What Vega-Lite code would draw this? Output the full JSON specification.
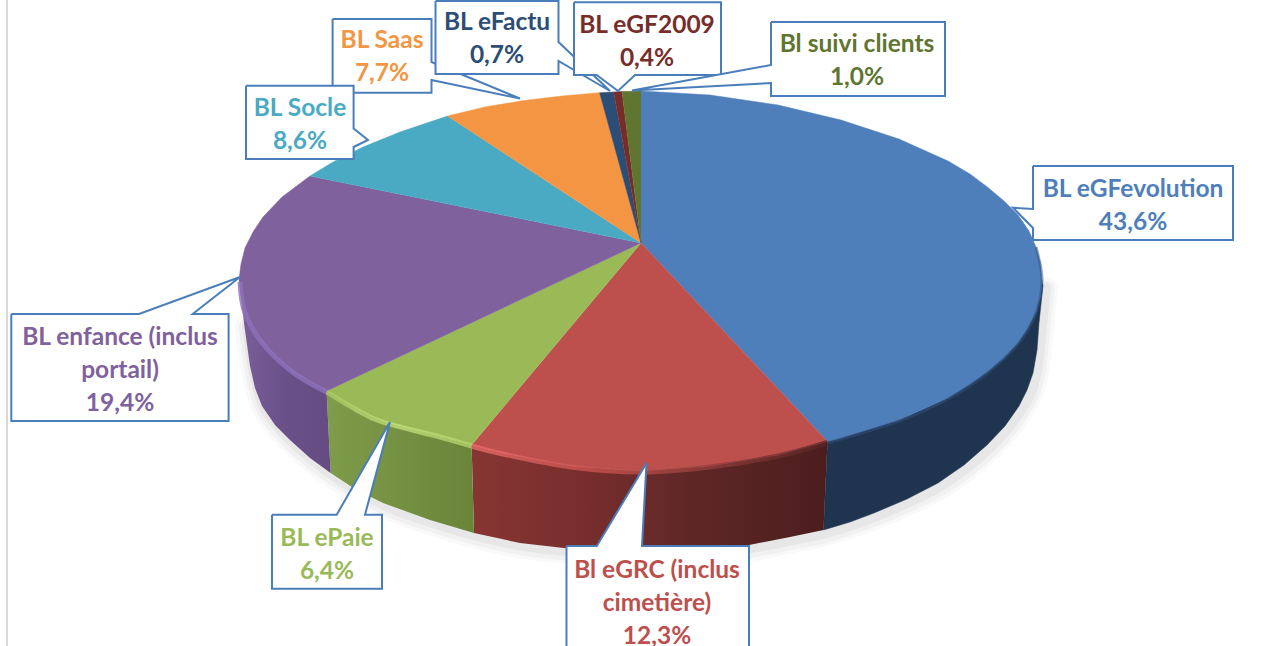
{
"$schema":"https://vega.github.io/schema/vega-lite/v6.json",
"width":1264,"height":646,"padding":0,
"autosize":"none",
"background":"white",
"config":{"view":{"stroke":null}},
"datasets":{
"slices":[
{"name":"BL eGFevolution","value":43.6,"label":"BL eGFevolution\n43,6%","x":1133,"y":189.5},
{"name":"Bl eGRC (inclus cimetière)","value":12.3,"label":"Bl eGRC (inclus\ncimetière)\n12,3%","x":657,"y":570.5},
{"name":"BL ePaie","value":6.4,"label":"BL ePaie\n6,4%","x":327,"y":538.5},
{"name":"BL enfance (inclus portail)","value":19.4,"label":"BL enfance (inclus\nportail)\n19,4%","x":120,"y":337.5},
{"name":"BL Socle","value":8.6,"label":"BL Socle\n8,6%","x":300,"y":108.5},
{"name":"BL Saas","value":7.7,"label":"BL Saas\n7,7%","x":382,"y":41},
{"name":"BL eFactu","value":0.7,"label":"BL eFactu\n0,7%","x":497,"y":23},
{"name":"BL eGF2009","value":0.4,"label":"BL eGF2009\n0,4%","x":647,"y":25.5},
{"name":"Bl suivi clients","value":1.0,"label":"Bl suivi clients\n1,0%","x":857,"y":45}
],
"top":[
{"s":"BL eGFevolution","i":0,"x":641,"y":243},{"s":"BL eGFevolution","i":1,"x":641,"y":91},{"s":"BL eGFevolution","i":2,"x":710,"y":95},{"s":"BL eGFevolution","i":3,"x":778,"y":105},{"s":"BL eGFevolution","i":4,"x":841,"y":120},{"s":"BL eGFevolution","i":5,"x":899,"y":139},{"s":"BL eGFevolution","i":6,"x":948,"y":161},{"s":"BL eGFevolution","i":6.5,"x":970,"y":174},{"s":"BL eGFevolution","i":7,"x":988,"y":187.5},{"s":"BL eGFevolution","i":7.5,"x":1004,"y":201},{"s":"BL eGFevolution","i":8,"x":1018,"y":215},{"s":"BL eGFevolution","i":8.5,"x":1029,"y":231},{"s":"BL eGFevolution","i":9,"x":1036,"y":247},{"s":"BL eGFevolution","i":10,"x":1040.5,"y":263.5},{"s":"BL eGFevolution","i":11,"x":1042,"y":280},{"s":"BL eGFevolution","i":11.5,"x":1040.5,"y":296},{"s":"BL eGFevolution","i":12,"x":1036,"y":312},{"s":"BL eGFevolution","i":12.5,"x":1028,"y":328},{"s":"BL eGFevolution","i":13,"x":1018,"y":343},{"s":"BL eGFevolution","i":13.5,"x":1004,"y":358},{"s":"BL eGFevolution","i":14,"x":988,"y":371.5},{"s":"BL eGFevolution","i":14.5,"x":969,"y":385},{"s":"BL eGFevolution","i":15,"x":948,"y":398},{"s":"BL eGFevolution","i":16,"x":899,"y":420},{"s":"BL eGFevolution","i":17,"x":841,"y":438},{"s":"BL eGFevolution","i":18,"x":827.5,"y":441.5},
{"s":"Bl eGRC (inclus cimetière)","i":0,"x":641,"y":243},{"s":"Bl eGRC (inclus cimetière)","i":1,"x":827.5,"y":441.5},{"s":"Bl eGRC (inclus cimetière)","i":2,"x":778,"y":455},{"s":"Bl eGRC (inclus cimetière)","i":3,"x":710,"y":466},{"s":"Bl eGRC (inclus cimetière)","i":4,"x":640.5,"y":471},{"s":"Bl eGRC (inclus cimetière)","i":5,"x":571,"y":466},{"s":"Bl eGRC (inclus cimetière)","i":6,"x":503,"y":453},{"s":"Bl eGRC (inclus cimetière)","i":7,"x":471.6,"y":445},
{"s":"BL ePaie","i":0,"x":641,"y":243},{"s":"BL ePaie","i":1,"x":471.6,"y":445},{"s":"BL ePaie","i":2,"x":440,"y":436},{"s":"BL ePaie","i":3,"x":382.4,"y":421},{"s":"BL ePaie","i":3.5,"x":355,"y":408},{"s":"BL ePaie","i":5,"x":326.6,"y":391},
{"s":"BL enfance (inclus portail)","i":0,"x":641,"y":243},{"s":"BL enfance (inclus portail)","i":1,"x":326.6,"y":391},{"s":"BL enfance (inclus portail)","i":2,"x":293,"y":371.5},{"s":"BL enfance (inclus portail)","i":2.5,"x":277,"y":358},{"s":"BL enfance (inclus portail)","i":3,"x":263,"y":343},{"s":"BL enfance (inclus portail)","i":3.5,"x":253,"y":328},{"s":"BL enfance (inclus portail)","i":4,"x":245,"y":312},{"s":"BL enfance (inclus portail)","i":4.5,"x":241,"y":296},{"s":"BL enfance (inclus portail)","i":5,"x":239,"y":280},{"s":"BL enfance (inclus portail)","i":5.5,"x":241,"y":264},{"s":"BL enfance (inclus portail)","i":6,"x":245,"y":248},{"s":"BL enfance (inclus portail)","i":6.5,"x":253,"y":232},{"s":"BL enfance (inclus portail)","i":7,"x":263,"y":217},{"s":"BL enfance (inclus portail)","i":8,"x":282,"y":197},{"s":"BL enfance (inclus portail)","i":9,"x":310,"y":176},
{"s":"BL Socle","i":0,"x":641,"y":243},{"s":"BL Socle","i":1,"x":310,"y":176},{"s":"BL Socle","i":2,"x":333,"y":162},{"s":"BL Socle","i":3,"x":363,"y":147},{"s":"BL Socle","i":4,"x":400,"y":132},{"s":"BL Socle","i":5,"x":447.6,"y":116},
{"s":"BL Saas","i":0,"x":641,"y":243},{"s":"BL Saas","i":1,"x":447.6,"y":116},{"s":"BL Saas","i":2,"x":485,"y":107},{"s":"BL Saas","i":3,"x":524,"y":100.5},{"s":"BL Saas","i":4,"x":562,"y":96},{"s":"BL Saas","i":5,"x":599.6,"y":92.7},
{"s":"BL eFactu","i":0,"x":641,"y":243},{"s":"BL eFactu","i":1,"x":599.6,"y":92.7},{"s":"BL eFactu","i":2,"x":613.7,"y":92},
{"s":"BL eGF2009","i":0,"x":641,"y":243},{"s":"BL eGF2009","i":1,"x":613.7,"y":92},{"s":"BL eGF2009","i":2,"x":622,"y":91.5},
{"s":"Bl suivi clients","i":0,"x":641,"y":243},{"s":"Bl suivi clients","i":1,"x":622,"y":91.5},{"s":"Bl suivi clients","i":2,"x":641,"y":91}
],
"sideBlue":[
{"i":0,"x":1042,"y":280},{"i":1,"x":1036,"y":312},{"i":2,"x":1018,"y":343},{"i":3,"x":988,"y":371.5},{"i":4,"x":948,"y":398},{"i":5,"x":899,"y":420},{"i":6,"x":841,"y":438},{"i":7,"x":827.5,"y":441.5},{"i":8,"x":823.5,"y":530},{"i":8.5,"x":850,"y":522},{"i":9,"x":874,"y":513},{"i":9.5,"x":907,"y":499},{"i":10,"x":938,"y":483},{"i":10.5,"x":964,"y":465},{"i":11,"x":987,"y":445},{"i":11.5,"x":1005,"y":426},{"i":12,"x":1019,"y":406},{"i":12.5,"x":1027,"y":390},{"i":13,"x":1033,"y":373},{"i":13.5,"x":1037,"y":350},{"i":14,"x":1039,"y":323},{"i":15,"x":1043,"y":285}
],
"sideRed":[
{"i":0,"x":827.5,"y":441.5},{"i":1,"x":778,"y":455},{"i":2,"x":710,"y":466},{"i":3,"x":640.5,"y":471},{"i":4,"x":571,"y":466},{"i":5,"x":503,"y":453},{"i":6,"x":471.6,"y":445},{"i":7,"x":474,"y":533},{"i":8,"x":520,"y":543},{"i":9,"x":564,"y":548},{"i":10,"x":640,"y":551},{"i":11,"x":700,"y":549},{"i":12,"x":749,"y":545},{"i":13,"x":790,"y":537},{"i":14,"x":823.5,"y":530}
],
"sideGreen":[
{"i":0,"x":471.6,"y":445},{"i":1,"x":440,"y":436},{"i":2,"x":382.4,"y":421},{"i":3,"x":355,"y":408},{"i":4,"x":326.6,"y":391},{"i":5,"x":330.6,"y":473},{"i":6,"x":355,"y":489},{"i":7,"x":383,"y":503},{"i":8,"x":430,"y":520},{"i":9,"x":474,"y":533}
],
"sidePurple":[
{"i":0,"x":326.6,"y":391},{"i":1,"x":293,"y":371.5},{"i":2,"x":263,"y":343},{"i":3,"x":245,"y":312},{"i":4,"x":239,"y":280},{"i":5,"x":244,"y":323},{"i":6,"x":250,"y":366},{"i":6.5,"x":255,"y":388},{"i":7,"x":262,"y":406},{"i":7.5,"x":275,"y":425},{"i":8,"x":290,"y":440},{"i":8.5,"x":310,"y":458},{"i":9,"x":330.6,"y":473}
],
"outer":[
{"i":0,"x":244,"y":323},{"i":1,"x":250,"y":366},{"i":2,"x":262,"y":406},{"i":3,"x":290,"y":440},{"i":4,"x":330.6,"y":473},{"i":5,"x":383,"y":503},{"i":6,"x":430,"y":520},{"i":7,"x":474,"y":533},{"i":8,"x":520,"y":543},{"i":9,"x":564,"y":548},{"i":10,"x":640,"y":551},{"i":11,"x":700,"y":549},{"i":12,"x":749,"y":545},{"i":13,"x":790,"y":537},{"i":14,"x":823.5,"y":530},{"i":15,"x":874,"y":513},{"i":16,"x":938,"y":483},{"i":17,"x":987,"y":445},{"i":18,"x":1019,"y":406},{"i":19,"x":1033,"y":373},{"i":20,"x":1039,"y":323},{"i":21,"x":1043,"y":285}
],
"rimRed":[{"i":0,"x":471.6,"y":446},{"i":1,"x":503,"y":454},{"i":2,"x":571,"y":467},{"i":3,"x":640.5,"y":472},{"i":4,"x":710,"y":467},{"i":5,"x":778,"y":456},{"i":6,"x":827.5,"y":442.5}],
"rimGreen":[{"i":0,"x":326.6,"y":392},{"i":1,"x":355,"y":409},{"i":2,"x":382.4,"y":422},{"i":3,"x":440,"y":437},{"i":4,"x":471.6,"y":446}],
"rimPurple":[{"i":0,"x":240,"y":282},{"i":1,"x":245,"y":313},{"i":2,"x":263,"y":344},{"i":3,"x":293,"y":372.5},{"i":4,"x":326.6,"y":392}],
"rimBlue":[{"i":0,"x":827.5,"y":442.5},{"i":1,"x":841,"y":439},{"i":2,"x":899,"y":421},{"i":3,"x":948,"y":399},{"i":4,"x":988,"y":372.5},{"i":5,"x":1018,"y":344},{"i":6,"x":1036,"y":313},{"i":7,"x":1042,"y":280},{"i":8,"x":1036,"y":247}],
"callouts":[
{"s":"BL Saas","i":0,"x":332.6,"y":19},{"s":"BL Saas","i":1,"x":431.5,"y":19},{"s":"BL Saas","i":2,"x":431.5,"y":62},{"s":"BL Saas","i":3,"x":520,"y":98.5},{"s":"BL Saas","i":4,"x":431.5,"y":80},{"s":"BL Saas","i":5,"x":431.5,"y":92.7},{"s":"BL Saas","i":6,"x":332.6,"y":92.7},{"s":"BL Saas","i":7,"x":332.6,"y":19},
{"s":"BL Socle","i":0,"x":246,"y":85.7},{"s":"BL Socle","i":1,"x":353.6,"y":85.7},{"s":"BL Socle","i":2,"x":353.6,"y":128.5},{"s":"BL Socle","i":3,"x":368,"y":140},{"s":"BL Socle","i":4,"x":353.6,"y":147},{"s":"BL Socle","i":5,"x":353.6,"y":159},{"s":"BL Socle","i":6,"x":246,"y":159},{"s":"BL Socle","i":7,"x":246,"y":85.7},
{"s":"BL eFactu","i":0,"x":435.5,"y":1},{"s":"BL eFactu","i":1,"x":558.5,"y":1},{"s":"BL eFactu","i":2,"x":558.5,"y":42},{"s":"BL eFactu","i":3,"x":610,"y":91},{"s":"BL eFactu","i":4,"x":558.5,"y":61},{"s":"BL eFactu","i":5,"x":558.5,"y":74},{"s":"BL eFactu","i":6,"x":435.5,"y":74},{"s":"BL eFactu","i":7,"x":435.5,"y":1},
{"s":"BL eGF2009","i":0,"x":574,"y":2.3},{"s":"BL eGF2009","i":1,"x":721,"y":2.3},{"s":"BL eGF2009","i":2,"x":721,"y":75},{"s":"BL eGF2009","i":3,"x":635,"y":75},{"s":"BL eGF2009","i":4,"x":618,"y":91},{"s":"BL eGF2009","i":5,"x":596.7,"y":75},{"s":"BL eGF2009","i":6,"x":574,"y":75},{"s":"BL eGF2009","i":7,"x":574,"y":2.3},
{"s":"Bl suivi clients","i":0,"x":771,"y":22},{"s":"Bl suivi clients","i":1,"x":945,"y":22},{"s":"Bl suivi clients","i":2,"x":945,"y":96},{"s":"Bl suivi clients","i":3,"x":771,"y":96},{"s":"Bl suivi clients","i":4,"x":771,"y":83},{"s":"Bl suivi clients","i":5,"x":632,"y":90.6},{"s":"Bl suivi clients","i":6,"x":771,"y":65},{"s":"Bl suivi clients","i":7,"x":771,"y":22},
{"s":"BL eGFevolution","i":0,"x":1033,"y":166},{"s":"BL eGFevolution","i":1,"x":1233,"y":166},{"s":"BL eGFevolution","i":2,"x":1233,"y":240},{"s":"BL eGFevolution","i":3,"x":1033,"y":240},{"s":"BL eGFevolution","i":4,"x":1033,"y":228},{"s":"BL eGFevolution","i":5,"x":1013,"y":207.7},{"s":"BL eGFevolution","i":6,"x":1033,"y":209},{"s":"BL eGFevolution","i":7,"x":1033,"y":166},
{"s":"BL enfance (inclus portail)","i":0,"x":11.3,"y":314},{"s":"BL enfance (inclus portail)","i":1,"x":139,"y":314},{"s":"BL enfance (inclus portail)","i":2,"x":240,"y":277},{"s":"BL enfance (inclus portail)","i":3,"x":192.7,"y":314},{"s":"BL enfance (inclus portail)","i":4,"x":228.6,"y":314},{"s":"BL enfance (inclus portail)","i":5,"x":228.6,"y":421},{"s":"BL enfance (inclus portail)","i":6,"x":11.3,"y":421},{"s":"BL enfance (inclus portail)","i":7,"x":11.3,"y":314},
{"s":"BL ePaie","i":0,"x":272,"y":514.7},{"s":"BL ePaie","i":1,"x":336.7,"y":514.7},{"s":"BL ePaie","i":2,"x":390,"y":422},{"s":"BL ePaie","i":3,"x":365,"y":514.7},{"s":"BL ePaie","i":4,"x":382,"y":514.7},{"s":"BL ePaie","i":5,"x":382,"y":588.7},{"s":"BL ePaie","i":6,"x":272,"y":588.7},{"s":"BL ePaie","i":7,"x":272,"y":514.7},
{"s":"Bl eGRC (inclus cimetière)","i":0,"x":566.5,"y":546},{"s":"Bl eGRC (inclus cimetière)","i":1,"x":596.8,"y":546},{"s":"Bl eGRC (inclus cimetière)","i":2,"x":646.5,"y":463},{"s":"Bl eGRC (inclus cimetière)","i":3,"x":642,"y":546},{"s":"Bl eGRC (inclus cimetière)","i":4,"x":749,"y":546},{"s":"Bl eGRC (inclus cimetière)","i":5,"x":749,"y":660},{"s":"Bl eGRC (inclus cimetière)","i":6,"x":566.5,"y":660},{"s":"Bl eGRC (inclus cimetière)","i":7,"x":566.5,"y":546}
]
},
"encoding":{
"x":{"field":"x","type":"quantitative","scale":{"domain":[0,1264],"nice":false,"zero":false},"axis":null},
"y":{"field":"y","type":"quantitative","scale":{"domain":[646,0],"nice":false,"zero":false},"axis":null}
},
"layer":[
{"data":{"name":"outer"},"mark":{"type":"line","interpolate":"cardinal","stroke":"#000000","strokeWidth":24,"opacity":0.025,"xOffset":3,"yOffset":4,"strokeCap":"round"},"encoding":{"order":{"field":"i"}}},
{"data":{"name":"outer"},"mark":{"type":"line","interpolate":"cardinal","stroke":"#000000","strokeWidth":17,"opacity":0.03,"xOffset":3,"yOffset":4,"strokeCap":"round"},"encoding":{"order":{"field":"i"}}},
{"data":{"name":"outer"},"mark":{"type":"line","interpolate":"cardinal","stroke":"#000000","strokeWidth":10,"opacity":0.04,"xOffset":3,"yOffset":3,"strokeCap":"round"},"encoding":{"order":{"field":"i"}}},
{"data":{"name":"sideBlue"},"mark":{"type":"line","fill":"#1f344f","stroke":"#1f344f","strokeWidth":0.5},"encoding":{"order":{"field":"i"}}},
{"data":{"name":"sideRed"},"mark":{"type":"line","strokeWidth":0,"fill":{"gradient":"linear","x1":0,"y1":0,"x2":1,"y2":0,"stops":[{"offset":0,"color":"#873533"},{"offset":0.35,"color":"#752d2c"},{"offset":0.6,"color":"#5f2827"},{"offset":1,"color":"#4c1d1d"}]}},"encoding":{"order":{"field":"i"}}},
{"data":{"name":"sideGreen"},"mark":{"type":"line","strokeWidth":0,"fill":{"gradient":"linear","x1":0,"y1":0,"x2":1,"y2":0,"stops":[{"offset":0,"color":"#7f9c4a"},{"offset":1,"color":"#6a8439"}]}},"encoding":{"order":{"field":"i"}}},
{"data":{"name":"sidePurple"},"mark":{"type":"line","strokeWidth":0,"fill":{"gradient":"linear","x1":0,"y1":0,"x2":1,"y2":0,"stops":[{"offset":0,"color":"#7a5f9c"},{"offset":0.5,"color":"#6a5088"},{"offset":1,"color":"#644c83"}]}},"encoding":{"order":{"field":"i"}}},
{"data":{"name":"top"},"mark":{"type":"line","strokeWidth":0.5},"encoding":{"order":{"field":"i"},
"fill":{"field":"s","type":"nominal","legend":null,"scale":{"domain":["BL eGFevolution","Bl eGRC (inclus cimetière)","BL ePaie","BL enfance (inclus portail)","BL Socle","BL Saas","BL eFactu","BL eGF2009","Bl suivi clients"],"range":["#4e7fba","#bd4f4c","#9aba58","#7f619e","#4aa9c3","#f39542","#2c4d75","#772c2a","#5f7530"]}},
"stroke":{"field":"s","type":"nominal","legend":null,"scale":{"domain":["BL eGFevolution","Bl eGRC (inclus cimetière)","BL ePaie","BL enfance (inclus portail)","BL Socle","BL Saas","BL eFactu","BL eGF2009","Bl suivi clients"],"range":["#4e7fba","#bd4f4c","#9aba58","#7f619e","#4aa9c3","#f39542","#2c4d75","#772c2a","#5f7530"]}}}},
{"data":{"name":"rimRed"},"mark":{"type":"line","interpolate":"cardinal","strokeWidth":5,"strokeOpacity":0.75,"stroke":{"gradient":"linear","x1":0,"y1":0,"x2":1,"y2":0,"stops":[{"offset":0,"color":"#ee6e6b"},{"offset":0.4,"color":"#c8524f"},{"offset":0.7,"color":"#8f3c39"},{"offset":1,"color":"#552423"}]}},"encoding":{"order":{"field":"i"}}},
{"data":{"name":"rimGreen"},"mark":{"type":"line","interpolate":"cardinal","strokeWidth":5,"strokeOpacity":0.75,"stroke":{"gradient":"linear","x1":0,"y1":0,"x2":1,"y2":0,"stops":[{"offset":0,"color":"#aacb66"},{"offset":0.5,"color":"#c6e47d"},{"offset":1,"color":"#b4d46e"}]}},"encoding":{"order":{"field":"i"}}},
{"data":{"name":"rimPurple"},"mark":{"type":"line","interpolate":"cardinal","strokeWidth":5,"strokeOpacity":0.8,"stroke":"#8f72ba"},"encoding":{"order":{"field":"i"}}},
{"data":{"name":"rimBlue"},"mark":{"type":"line","interpolate":"cardinal","strokeWidth":3,"strokeOpacity":0.5,"stroke":"#33547f"},"encoding":{"order":{"field":"i"}}},
{"data":{"name":"callouts"},"mark":{"type":"line","clip":true,"fill":"#ffffff","stroke":"#4a7ebb","strokeWidth":2,"strokeJoin":"miter"},"encoding":{"order":{"field":"i"},"detail":{"field":"s","type":"nominal"}}},
{"data":{"values":[{"x":7}]},"mark":{"type":"rule","stroke":"#d9d9d9","strokeWidth":2},"encoding":{"y":{"value":0},"y2":{"value":646}}},
{"data":{"name":"slices"},"mark":{"type":"text","font":"Lato","fontWeight":"bold","fontSize":24.5,"lineBreak":"\n","lineHeight":33,"align":"center","baseline":"middle"},"encoding":{"text":{"field":"label"},
"color":{"field":"name","type":"nominal","legend":null,"scale":{"domain":["BL eGFevolution","Bl eGRC (inclus cimetière)","BL ePaie","BL enfance (inclus portail)","BL Socle","BL Saas","BL eFactu","BL eGF2009","Bl suivi clients"],"range":["#4e7fba","#bd4f4c","#9aba58","#7f619e","#4aa9c3","#f39542","#2c4d75","#772c2a","#5f7530"]}}}}
],
"resolve":{"scale":{"fill":"shared","stroke":"shared"}}
}
